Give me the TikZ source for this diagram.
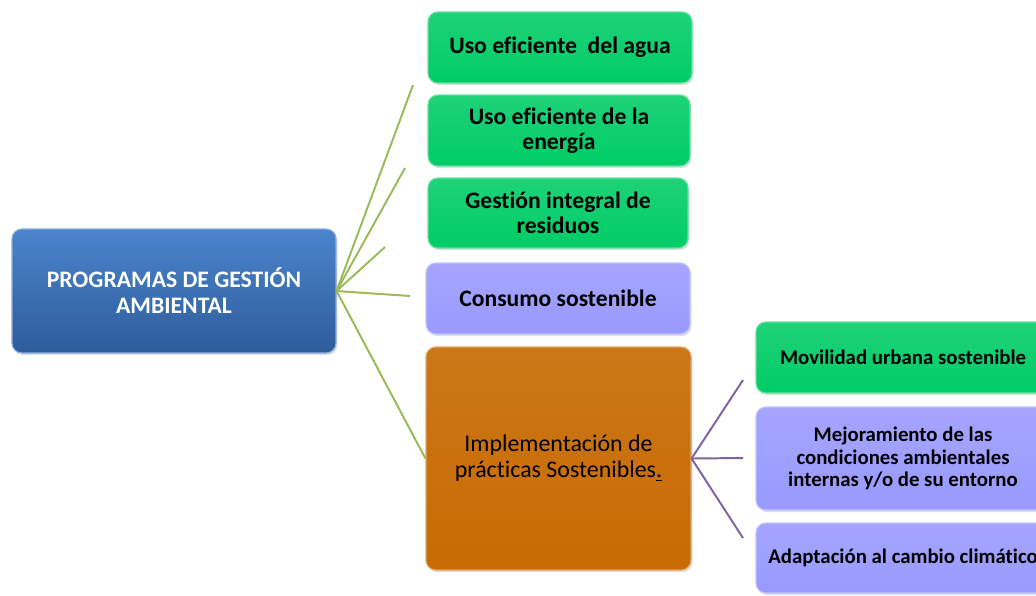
\documentclass[tikz,border=0pt]{standalone}
\usepackage{fontspec}
\setmainfont{Carlito}[Ligatures={NoCommon}]
\usetikzlibrary{positioning, shadows}
\definecolor{cblue}{HTML}{3B7AC8}
\definecolor{cbluedark}{HTML}{2E5C9B}
\definecolor{cgreen}{HTML}{00CC66}
\definecolor{clila}{HTML}{9999FF}
\definecolor{corange}{HTML}{C86B04}
\definecolor{lgreen}{HTML}{9BBB59}
\definecolor{lpurple}{HTML}{8064A2}

\begin{document}
\begin{tikzpicture}[x=0.025cm, y=-0.025cm,
  prog/.style={rounded corners=7pt, top color=#1!88!white, bottom color=#1,
               draw=#1!60!white, thick, align=center, inner sep=3pt,
               drop shadow={opacity=0.25, shadow xshift=1pt, shadow yshift=-1.5pt}},
  item/.style={prog=#1, font=\fontsize{16.8}{18}\selectfont\bfseries},
  sub/.style={prog=#1, font=\fontsize{14.8}{16}\selectfont\bfseries},
  branch/.style={lgreen, line width=1.4pt},
  leaf/.style={lpurple, line width=1.4pt}
]
\clip (0,0) rectangle (1036,595);
\fill[white] (0,0) rectangle (1036,595);

%% Root
\node[prog=cblue, bottom color=cbluedark, top color=cblue!92!white,
      minimum width=324*0.025cm, minimum height=124*0.025cm,
      font=\fontsize{16.8}{18.4}\selectfont\bfseries, text=white]
  (root) at (174,291) {PROGRAMAS DE GESTIÓN\\AMBIENTAL};

%% Programs
\node[item=cgreen, minimum width=264*0.025cm, minimum height=71*0.025cm]
  (agua) at (560,47.5) {Uso eficiente~ del agua};
\node[item=cgreen, minimum width=262*0.025cm, minimum height=71*0.025cm]
  (energia) at (559,130.5) {Uso eficiente de la\\energía};
\node[item=cgreen, minimum width=260*0.025cm, minimum height=70*0.025cm]
  (residuos) at (558,213) {Gestión integral de\\residuos};
\node[item=clila, minimum width=264*0.025cm, minimum height=71*0.025cm]
  (consumo) at (558,298.5) {Consumo sostenible};
\node[prog=corange, top color=corange!92!white, minimum width=265*0.025cm,
      minimum height=223*0.025cm, font=\fontsize{17}{18.4}\selectfont]
  (impl) at (558.5,458.5) {Implementación de\\prácticas Sostenibles\underline{.}};

%% Sub-programs
\node[sub=cgreen, minimum width=294*0.025cm, minimum height=71*0.025cm]
  (movil) at (903,357.5) {Movilidad urbana sostenible};
\node[sub=clila, minimum width=294*0.025cm, minimum height=103*0.025cm]
  (mejora) at (903,458.5) {Mejoramiento de las\\condiciones ambientales\\internas y/o de su entorno};
\node[sub=clila, minimum width=294*0.025cm, minimum height=70*0.025cm]
  (adapt) at (903,558) {Adaptación al cambio climático};

%% Branch ends
\coordinate (b1) at (413,85);
\coordinate (b2) at (405,168);
\coordinate (b3) at (385,247);
\coordinate (b4) at (410,296);
\coordinate (s1) at (743,380);
\coordinate (s2) at (743,458);
\coordinate (s3) at (743,538);

%% Connectors
\foreach \e in {b1,b2,b3,b4}
  \draw[branch] (root.east) -- (\e);
\draw[branch] (root.east) -- (impl.west);
\foreach \e in {s1,s2,s3}
  \draw[leaf] (impl.east) -- (\e);

\end{tikzpicture}
\end{document}
